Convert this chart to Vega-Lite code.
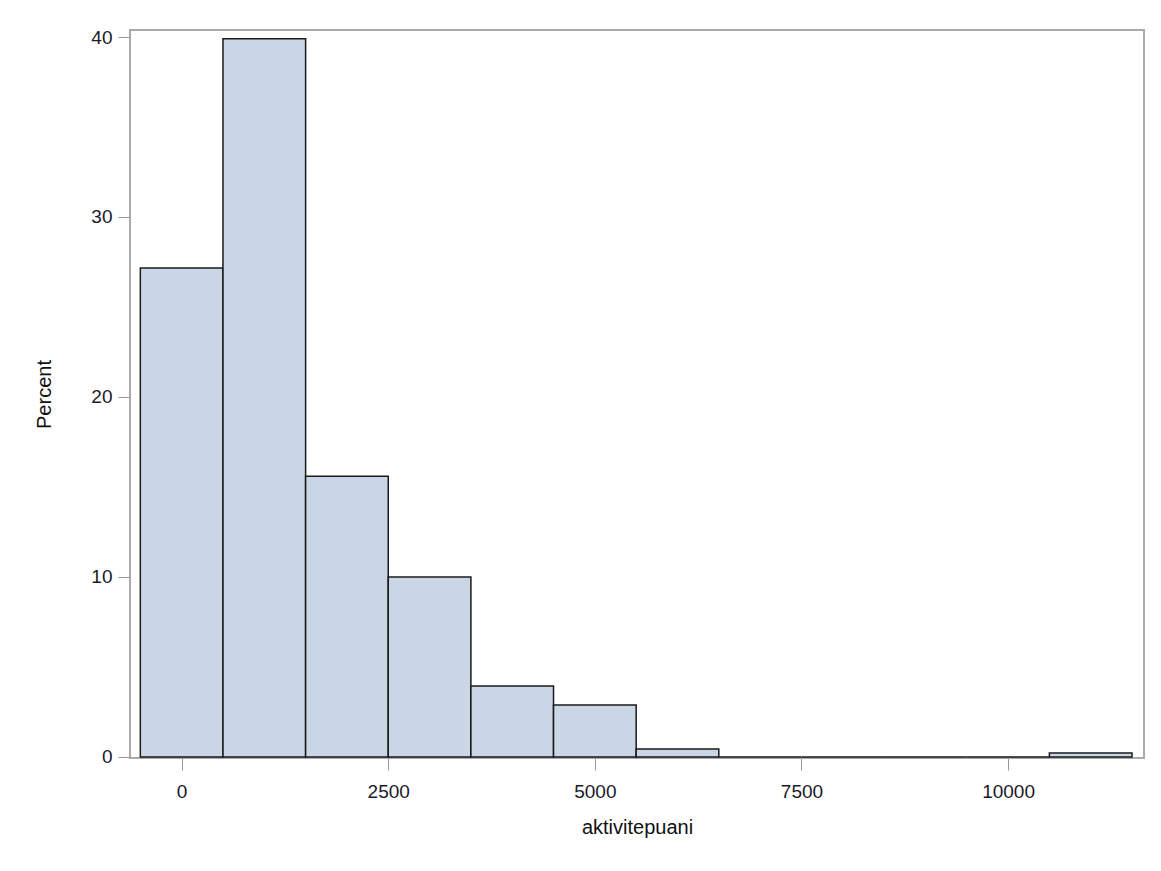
{
  "$schema": "https://vega.github.io/schema/vega-lite/v6.json",
  "autosize": {"type": "none"},
  "padding": {"left": 130, "top": 30, "right": 17, "bottom": 113},
  "width": 1014,
  "height": 728,
  "background": "white",
  "config": {
    "view": {"stroke": "#aaaaaa", "strokeWidth": 2},
    "axis": {
      "labelFont": "Liberation Sans",
      "titleFont": "Liberation Sans",
      "labelFontSize": 19,
      "titleFontSize": 20,
      "titleFontWeight": "normal",
      "labelColor": "#1a1a2a",
      "titleColor": "#111111",
      "domainColor": "#aaaaaa",
      "tickColor": "#999999",
      "tickSize": 12,
      "grid": false
    }
  },
  "data": {
    "values": [
      {"lo": -500, "hi": 500, "percent": 27.17},
      {"lo": 500, "hi": 1500, "percent": 39.9},
      {"lo": 1500, "hi": 2500, "percent": 15.6},
      {"lo": 2500, "hi": 3500, "percent": 10.0},
      {"lo": 3500, "hi": 4500, "percent": 3.94},
      {"lo": 4500, "hi": 5500, "percent": 2.89},
      {"lo": 5500, "hi": 6500, "percent": 0.44},
      {"lo": 6500, "hi": 7500, "percent": 0},
      {"lo": 7500, "hi": 8500, "percent": 0},
      {"lo": 8500, "hi": 9500, "percent": 0},
      {"lo": 9500, "hi": 10500, "percent": 0},
      {"lo": 10500, "hi": 11500, "percent": 0.22}
    ]
  },
  "mark": {"type": "rect", "fill": "#CAD5E5", "stroke": "#1a1a1a", "strokeWidth": 1.5},
  "encoding": {
    "x": {
      "field": "lo",
      "type": "quantitative",
      "scale": {"domain": [-625, 11645], "nice": false, "zero": false},
      "axis": {"values": [0, 2500, 5000, 7500, 10000], "title": "aktivitepuani", "labelPadding": 12, "titlePadding": 16, "format": "d"}
    },
    "x2": {"field": "hi"},
    "y": {
      "field": "percent",
      "type": "quantitative",
      "scale": {"domain": [-0.06, 40.39], "nice": false, "zero": false},
      "axis": {"values": [0, 10, 20, 30, 40], "title": "Percent", "labelPadding": 6, "titlePadding": 36}
    },
    "y2": {"datum": 0}
  }
}
